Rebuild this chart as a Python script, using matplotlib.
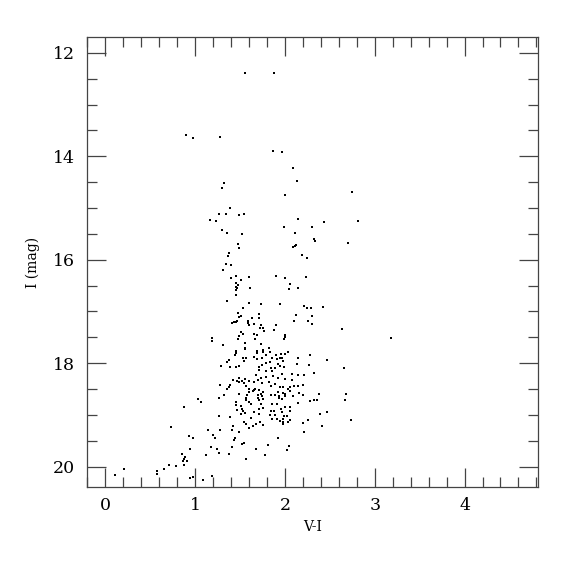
# colour-magnitude diagram, I vs V-I

import numpy as np
import matplotlib.pyplot as plt
from matplotlib.ticker import MultipleLocator

# V-I colour of each star
v_i = [
    1.56, 1.88, 0.90, 0.98, 1.28, 1.87, 1.97, 2.09, 2.13, 1.32,
    1.30, 2.00, 2.75, 1.39, 1.26, 1.34, 1.49, 1.54, 1.17, 1.23,
    2.15, 2.44, 2.81, 1.99, 2.30, 1.30, 1.36, 1.52, 2.11, 2.32,
    1.48, 1.49, 1.38, 1.37, 1.34, 1.40, 1.31, 1.40, 1.46, 1.60,
    1.51, 1.46, 1.48, 1.46, 1.47, 1.45, 1.61, 1.46, 1.36, 1.60,
    1.53, 1.48, 1.51, 1.49, 1.71, 1.71, 1.63, 1.59, 1.47, 1.45,
    1.43, 1.41, 1.59, 1.60, 1.66, 2.34, 2.12, 2.11, 2.09, 2.70,
    2.19, 2.24, 1.90, 2.00, 2.23, 2.06, 2.15, 2.05, 1.73, 1.95,
    2.21, 2.25, 2.29, 2.42, 2.12, 2.30, 2.10, 2.26, 2.30, 1.73,
    1.90, 1.76, 1.72, 1.88, 1.77, 2.63, 2.00, 2.00, 1.69, 1.67,
    1.99, 3.18, 1.51, 1.53, 1.49, 1.48, 1.66, 1.19, 1.19, 1.31,
    1.56, 1.55, 1.56, 1.46, 1.46, 1.44, 1.53, 1.57, 1.66, 1.38,
    1.36, 1.54, 1.49, 1.45, 1.39, 1.29, 1.49, 1.42, 1.47, 1.49,
    1.52, 1.56, 1.60, 1.54, 1.57, 1.60, 1.66, 1.65, 1.39, 1.28,
    1.38, 1.36, 1.32, 1.26, 1.49, 1.58, 1.60, 1.57, 1.03, 1.73,
    1.69, 1.69, 1.75, 1.76, 1.82, 1.83, 1.69, 1.74, 1.79, 1.86,
    1.90, 1.91, 1.96, 2.00, 2.03, 1.94, 1.97, 1.98, 2.15, 2.28,
    1.79, 1.74, 1.71, 1.83, 1.92, 1.94, 1.99, 1.89, 2.13, 2.27,
    1.71, 1.79, 1.84, 1.86, 2.08, 2.15, 2.21, 2.32, 1.68, 1.79,
    1.87, 1.97, 1.70, 1.73, 1.92, 2.00, 2.08, 1.74, 1.82, 1.89,
    1.85, 1.94, 1.98, 2.06, 2.10, 2.15, 2.20, 1.67, 1.71, 2.03,
    2.06, 1.76, 1.92, 1.98, 2.16, 2.20, 1.70, 1.73, 1.74, 1.85,
    1.89, 1.93, 2.00, 2.00, 2.09, 2.38, 1.64, 2.47, 2.66, 2.68,
    2.67, 2.47, 2.39, 2.74, 2.41, 1.07, 0.88, 1.46, 1.45, 1.51,
    1.57, 1.60, 1.47, 1.52, 1.53, 1.51, 1.56, 1.62, 1.66, 1.27,
    1.39, 1.62, 1.54, 1.57, 1.64, 1.60, 1.42, 1.41, 1.28, 1.14,
    1.49, 0.93, 0.98, 1.20, 1.22, 1.43, 1.44, 1.52, 1.54, 0.94,
    1.18, 1.24, 1.26, 1.41, 1.12, 1.38, 0.85, 0.89, 0.88, 0.86,
    0.91, 0.88, 1.57, 0.79, 1.70, 1.71, 1.75, 1.73, 1.93, 1.97,
    1.86, 1.91, 2.00, 2.06, 2.15, 2.28, 2.32, 2.36, 1.71, 1.75,
    1.71, 1.85, 1.88, 1.96, 1.97, 2.06, 1.83, 1.89, 1.86, 1.91,
    1.99, 2.02, 1.72, 1.76, 1.68, 1.95, 1.98, 2.03, 2.06, 1.98,
    1.98, 2.26, 2.20, 2.21, 1.92, 1.81, 1.68, 1.78, 2.05, 2.02,
    0.73, 0.71, 0.65, 0.58, 0.58, 0.21, 0.11, 0.94, 0.98, 1.09,
    1.19,
]

# I magnitude of each star
i_mag = [
    12.38, 12.39, 13.58, 13.65, 13.62, 13.89, 13.91, 14.22, 14.47, 14.52,
    14.61, 14.74, 14.69, 15.00, 15.12, 15.11, 15.14, 15.11, 15.23, 15.26,
    15.21, 15.27, 15.25, 15.36, 15.37, 15.42, 15.49, 15.51, 15.48, 15.60,
    15.69, 15.78, 15.87, 15.93, 16.09, 16.10, 16.20, 16.36, 16.31, 16.34,
    16.40, 16.44, 16.49, 16.53, 16.55, 16.59, 16.54, 16.69, 16.80, 16.84,
    16.93, 17.03, 17.09, 17.10, 17.05, 17.12, 17.13, 17.18, 17.19, 17.20,
    17.21, 17.22, 17.23, 17.26, 17.24, 15.64, 15.71, 15.73, 15.75, 15.67,
    15.91, 15.97, 16.31, 16.35, 16.34, 16.47, 16.55, 16.57, 16.85, 16.86,
    16.89, 16.93, 16.93, 16.92, 17.06, 17.09, 17.18, 17.19, 17.25, 17.27,
    17.27, 17.31, 17.32, 17.35, 17.37, 17.34, 17.45, 17.49, 17.45, 17.53,
    17.53, 17.51, 17.40, 17.44, 17.47, 17.53, 17.43, 17.51, 17.57, 17.65,
    17.60, 17.70, 17.73, 17.76, 17.80, 17.85, 17.89, 17.90, 17.88, 17.94,
    17.97, 17.96, 18.05, 18.07, 18.08, 18.06, 18.28, 18.32, 18.34, 18.36,
    18.34, 18.31, 18.34, 18.38, 18.45, 18.49, 18.37, 18.52, 18.42, 18.42,
    18.47, 18.50, 18.61, 18.68, 18.60, 18.61, 18.56, 18.67, 18.70, 17.63,
    17.76, 17.80, 17.74, 17.79, 17.71, 17.78, 17.92, 17.89, 17.85, 17.89,
    17.85, 17.91, 17.83, 17.82, 17.78, 17.90, 17.89, 17.95, 17.89, 17.84,
    17.99, 18.03, 18.07, 17.98, 18.01, 18.06, 18.07, 18.09, 18.02, 18.03,
    18.14, 18.16, 18.10, 18.16, 18.21, 18.23, 18.23, 18.18, 18.23, 18.26,
    18.24, 18.21, 18.32, 18.29, 18.29, 18.31, 18.33, 18.39, 18.36, 18.41,
    18.44, 18.47, 18.47, 18.46, 18.45, 18.45, 18.42, 18.49, 18.52, 18.50,
    18.53, 18.55, 18.55, 18.57, 18.58, 18.61, 18.61, 18.59, 18.63, 18.61,
    18.61, 18.64, 18.63, 18.59, 18.63, 18.59, 18.54, 17.93, 18.10, 18.59,
    18.72, 18.94, 18.99, 19.10, 19.22, 18.76, 18.85, 18.76, 18.81, 18.82,
    18.72, 18.76, 18.91, 18.89, 18.93, 18.98, 18.97, 18.79, 18.95, 19.03,
    19.05, 19.06, 19.13, 19.18, 19.21, 19.25, 19.21, 19.30, 19.29, 19.30,
    19.34, 19.41, 19.45, 19.39, 19.45, 19.49, 19.45, 19.57, 19.54, 19.66,
    19.63, 19.66, 19.73, 19.62, 19.78, 19.76, 19.75, 19.81, 19.85, 19.89,
    19.89, 19.97, 19.86, 19.99, 18.67, 18.72, 18.70, 18.79, 18.67, 18.69,
    18.78, 18.79, 18.84, 18.84, 18.77, 18.73, 18.72, 18.72, 18.89, 18.87,
    18.99, 18.92, 18.92, 18.89, 18.94, 18.92, 19.00, 19.00, 19.07, 19.08,
    19.03, 19.02, 19.14, 19.19, 19.18, 19.11, 19.13, 19.13, 19.10, 19.18,
    19.08, 19.10, 19.16, 19.33, 19.44, 19.58, 19.65, 19.78, 19.60, 19.68,
    19.23, 19.97, 20.05, 20.08, 20.14, 20.05, 20.16, 20.22, 20.21, 20.26,
    20.19,
]

x_ticks = [0, 1, 2, 3, 4]
y_ticks = [12, 14, 16, 18, 20]

plt.rcParams['font.family'] = ['DejaVu Serif']

fig = plt.figure(figsize=(5.75, 5.75), dpi=100)
ax = fig.add_axes([0.152, 0.1525, 0.784, 0.7825])

ax.scatter(np.array(v_i), np.array(i_mag), s=3.5, c='black', marker='s', linewidths=0)

ax.set_xlim(-0.2, 4.82)
ax.set_ylim(20.4, 11.7)

ax.set_xticks(x_ticks)
ax.set_yticks(y_ticks)
ax.xaxis.set_minor_locator(MultipleLocator(0.2))
ax.yaxis.set_minor_locator(MultipleLocator(0.5))

ax.tick_params(which='both', direction='in', top=True, right=True, width=0.9, color='#444444')
ax.tick_params(which='major', length=13.5, labelsize=12.5)
ax.tick_params(axis='x', which='major', pad=7)
ax.tick_params(axis='y', which='major', pad=9)
ax.tick_params(which='minor', length=7)

for s in ax.spines.values():
    s.set_linewidth(0.9)
    s.set_color('#444444')

ax.set_xlabel('V-I', fontsize=10, labelpad=4)
ax.set_ylabel('I (mag)', fontsize=10, labelpad=9)

fig.savefig('out.png', dpi=100)
